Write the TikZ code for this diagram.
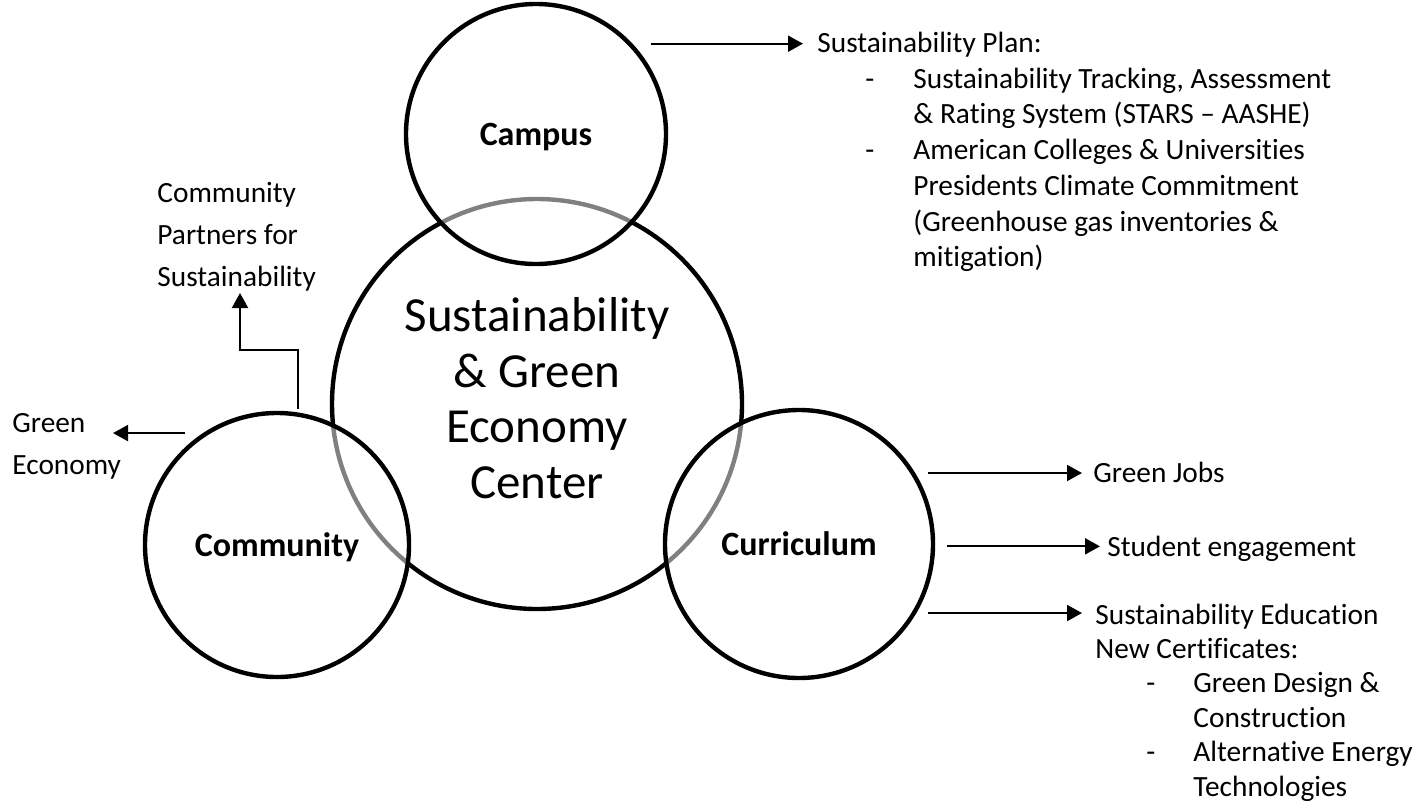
\documentclass[tikz,border=0pt]{standalone}
\usepackage{fontspec}
\setmainfont{Carlito}[Ligatures=NoCommon]
\usetikzlibrary{arrows.meta,calc}
\newcommand\dashitem[2]{\makebox[#2][l]{\hspace*{#1}-}}
\begin{document}
\begin{tikzpicture}[x=0.5pt,y=-0.5pt,
  ring/.style={circle, draw=black, line width=2.2pt, inner sep=0pt, outer sep=0pt},
  smallring/.style={ring, fill=white, fill opacity=0.5, text opacity=1,
    font=\fontsize{17}{20}\selectfont\bfseries, text height=11pt, text depth=0pt},
  arr/.style={line width=1pt, -{Triangle[length=7.5pt,width=8pt]}},
  txt/.style={anchor=base west, inner sep=0pt}
]
\useasboundingbox (0,0) rectangle (1428,809);

% central circle
\node[ring, minimum size=205pt, font=\fontsize{24.5}{27.8}\selectfont] (hub) at (537,404)
  {\begin{tabular}{@{}c@{}}Sustainability\\ \& Green\\ Economy\\ Center\end{tabular}};

% three overlapping circles
\node[smallring, minimum size=130pt] (campus) at (536,134) {Campus};
\node[smallring, minimum size=132pt] (comm) at (277,545) {Community};
\node[smallring, minimum size=134pt] (curr) at (799,544) {Curriculum};

% texts
\node[txt, font=\fontsize{14.67}{17.85}\selectfont] (plan) at (817,52.5)
  {\begin{tabular}[t]{@{}l@{}}Sustainability Plan:\\
   \dashitem{24pt}{48pt}Sustainability Tracking, Assessment\\
   \hspace*{48pt}\& Rating System (STARS – AASHE)\\
   \dashitem{24pt}{48pt}American Colleges \& Universities\\
   \hspace*{48pt}Presidents Climate Commitment\\
   \hspace*{48pt}(Greenhouse gas inventories \&\\
   \hspace*{48pt}mitigation)\end{tabular}};

\node[txt, font=\fontsize{14.67}{21}\selectfont] (partners) at (157,202.5)
  {\begin{tabular}[t]{@{}l@{}}Community\\ Partners for\\ Sustainability\end{tabular}};

\node[txt, font=\fontsize{14.67}{21}\selectfont] (gecon) at (12,432)
  {\begin{tabular}[t]{@{}l@{}}Green\\ Economy\end{tabular}};

\node[txt, font=\fontsize{14.67}{17.6}\selectfont] (jobs) at (1093,482) {Green Jobs};
\node[txt, font=\fontsize{14.67}{17.6}\selectfont] (stud) at (1107,556) {Student engagement};

\node[txt, font=\fontsize{14.67}{17.2}\selectfont] (edu) at (1095,624)
  {\begin{tabular}[t]{@{}l@{}}Sustainability Education\\ New Certificates:\\
   \dashitem{25.5pt}{49pt}Green Design \&\\
   \hspace*{49pt}Construction\\
   \dashitem{25.5pt}{49pt}Alternative Energy\\
   \hspace*{49pt}Technologies\end{tabular}};

% connectors
\coordinate (a1) at ([xshift=10.5pt]campus.44.4);
\coordinate (b1) at ([xshift=-7pt]plan.west);
\draw[arr] (a1) -- (a1 -| b1);

\coordinate (a2) at ([xshift=7.7pt]curr.32);
\coordinate (b2) at ([xshift=-5.5pt]jobs.west);
\draw[arr] (a2) -- (a2 -| b2);

\coordinate (a3) at ([xshift=7pt]curr.-1.3);
\coordinate (b3) at ([xshift=-3.5pt]stud.west);
\draw[arr] (a3) -- (a3 -| b3);

\coordinate (a4) at ([xshift=7pt]curr.-31);
\coordinate (b4) at ([xshift=-6.5pt]edu.west);
\draw[arr] (a4) -- (a4 -| b4);

\coordinate (a5) at ([xshift=-11pt]comm.122);
\coordinate (b5) at ([xshift=50.5pt]gecon.west);
\draw[arr] (a5) -- (a5 -| b5);

\coordinate (a6) at ([yshift=3pt]comm.81.7);
\coordinate (m6) at (240,350);
\coordinate (b6) at (240,293);
\draw[arr] (a6) -- (a6 |- m6) -- (m6) -- (b6);
\end{tikzpicture}
\end{document}
